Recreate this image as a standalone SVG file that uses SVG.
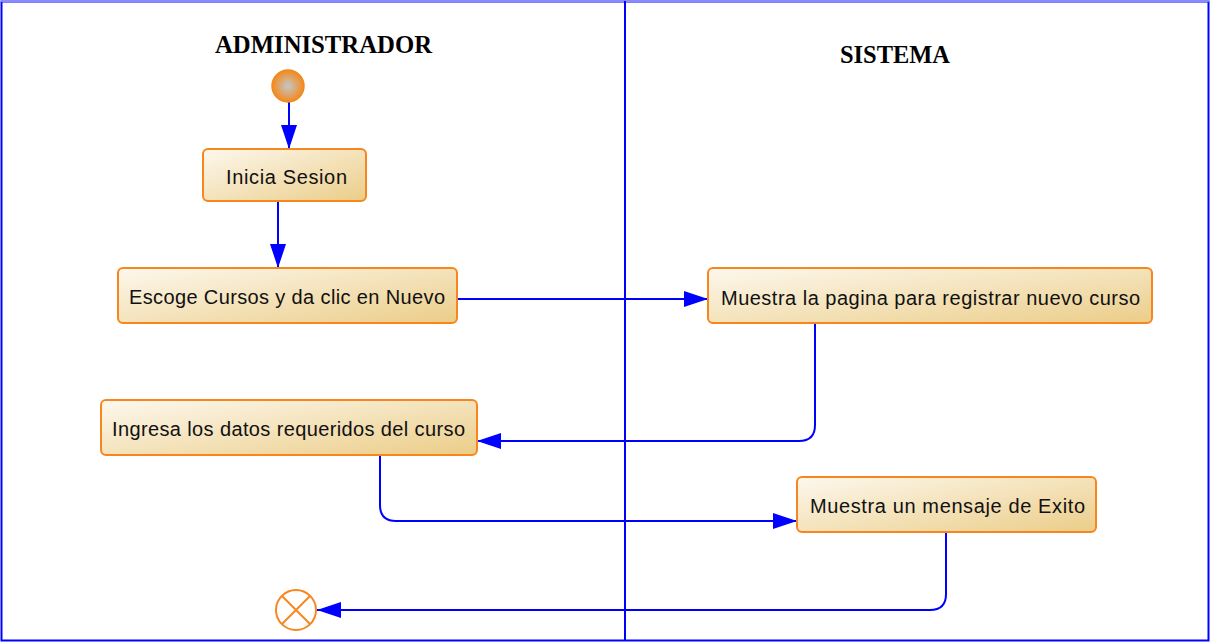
<svg xmlns="http://www.w3.org/2000/svg" width="1211" height="643" viewBox="0 0 1211 643">
<style>
.node{fill:url(#ng);stroke:#f7861e;stroke-width:2}
.lbl{font-family:"Liberation Sans",Arial,sans-serif;font-size:20px;fill:#111;text-anchor:start}
.title{font-family:"Liberation Serif","Times New Roman",serif;font-size:26px;font-weight:bold;fill:#000}
.conn{fill:none;stroke:#0000ff;stroke-width:2}
</style>
<defs>
<linearGradient id="ng" x1="0" y1="0" x2="1" y2="1">
<stop offset="0" stop-color="#fdf8ee"/>
<stop offset="1" stop-color="#ebcd88"/>
</linearGradient>
<radialGradient id="sg" cx="0.5" cy="0.5" r="0.5">
<stop offset="0" stop-color="#c4c6cc"/>
<stop offset="1" stop-color="#f28a1c"/>
</radialGradient>
<marker id="ah" markerUnits="userSpaceOnUse" markerWidth="24" markerHeight="16" refX="24" refY="8" orient="auto">
<path d="M0,0 L24,8 L0,16 z" fill="#0000ff"/>
</marker>
</defs>
<rect x="0" y="0" width="1211" height="643" fill="#fff"/>
<rect x="1.5" y="1.5" width="1207" height="639" fill="none" stroke="#0000ff" stroke-width="2"/>
<line x1="1" y1="1" x2="1209" y2="1" stroke="#8a8aff" stroke-width="2"/>
<line x1="625" y1="1" x2="625" y2="641" stroke="#0000ff" stroke-width="2"/>
<text class="title" x="215" y="53" textLength="217" lengthAdjust="spacingAndGlyphs">ADMINISTRADOR</text>
<text class="title" x="840" y="63" textLength="110" lengthAdjust="spacingAndGlyphs">SISTEMA</text>
<g id="connectors">
<path class="conn" d="M289,102 L289,149" marker-end="url(#ah)"/>
<path class="conn" d="M278,201 L278,268" marker-end="url(#ah)"/>
<path class="conn" d="M457,299 L708,299" marker-end="url(#ah)"/>
<path class="conn" d="M815,323 L815,425 Q815,441 799,441 L477,441" marker-end="url(#ah)"/>
<path class="conn" d="M380,455 L380,505 Q380,521 396,521 L797,521" marker-end="url(#ah)"/>
<path class="conn" d="M946,532 L946,594 Q946,610 930,610 L317,610" marker-end="url(#ah)"/>
</g>
<g id="start">
<circle cx="288" cy="86" r="16" fill="url(#sg)" stroke="#f28a1c" stroke-width="1.5"/>
</g>
<g id="n1">
<rect class="node" x="203" y="149" width="163" height="52" rx="5"/>
<text class="lbl" x="226" y="184" textLength="121" lengthAdjust="spacing">Inicia Sesion</text>
</g>
<g id="n2">
<rect class="node" x="118" y="268" width="339" height="55" rx="5"/>
<text class="lbl" x="129" y="304" textLength="316" lengthAdjust="spacing">Escoge Cursos y da clic en Nuevo</text>
</g>
<g id="n3">
<rect class="node" x="708" y="268" width="444" height="55" rx="5"/>
<text class="lbl" x="721" y="305" textLength="419" lengthAdjust="spacing">Muestra la pagina para registrar nuevo curso</text>
</g>
<g id="n4">
<rect class="node" x="101" y="400" width="376" height="55" rx="5"/>
<text class="lbl" x="112" y="436" textLength="353" lengthAdjust="spacing">Ingresa los datos requeridos del curso</text>
</g>
<g id="n5">
<rect class="node" x="797" y="477" width="299" height="55" rx="5"/>
<text class="lbl" x="810" y="513" textLength="275" lengthAdjust="spacing">Muestra un mensaje de Exito</text>
</g>
<g id="end">
<circle cx="296" cy="610" r="20" fill="#fff" stroke="#f7861e" stroke-width="2"/>
<line x1="282" y1="596" x2="310" y2="624" stroke="#f7861e" stroke-width="2"/>
<line x1="310" y1="596" x2="282" y2="624" stroke="#f7861e" stroke-width="2"/>
</g>
</svg>
